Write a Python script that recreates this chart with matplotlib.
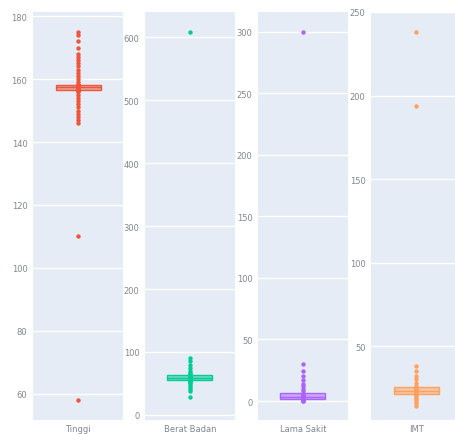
import matplotlib
matplotlib.use('Agg')
import matplotlib.pyplot as plt
import numpy as np

# Data per variabel
labels = ['Tinggi', 'Berat Badan', 'Lama Sakit', 'IMT']

tinggi = [58, 110, 146, 147, 148, 149, 150, 151, 152, 153, 154, 155, 156,
          156.5, 156.5, 156.5, 156.5, 156.5, 156.5,
          157, 157, 157, 157, 157, 157, 157, 157,
          157.5, 157.5, 157.5, 157.5, 157.5, 157.5, 157.5, 157.5,
          158, 158, 158, 158, 158, 158, 158, 158,
          159, 160, 161, 162, 163, 164, 165, 166, 167, 168, 170, 172, 174, 175]
berat = [28, 38, 42, 45, 48, 50, 53, 54, 55, 55, 56, 56, 57, 57, 58, 58, 58,
         59, 59, 60, 60, 61, 62, 63, 65, 67, 70, 75, 80, 85, 90, 608]
lama = [0, 0, 1, 1, 1, 1, 1, 1, 1, 2, 2, 2, 2, 2, 2, 2, 2, 3, 3, 3, 3, 3,
        3, 3, 4, 5, 6, 8, 10, 12, 14, 17, 20, 24, 30, 300]
imt = [14, 16, 17, 18, 19, 20, 21, 21, 21, 22, 22, 22, 22, 22, 23, 23, 23,
       23, 23, 24, 24, 24, 25, 26, 28, 30, 32, 35, 38, 194, 238]

series = [tinggi, berat, lama, imt]
colors = ['#EF553B', '#00CC96', '#AB63FA', '#FFA15A']
ticks = [np.arange(60, 181, 20), np.arange(0, 601, 100),
         np.arange(0, 301, 50), np.arange(50, 251, 50)]
ylims = [(51.7, 181.3), (-8, 640), (-15.4, 316), (5.7, 250)]
xpos = [33, 145, 258, 371]

W, H = 456, 435
fig = plt.figure(figsize=(W / 100, H / 100), dpi=100)

for i in range(4):
    ax = fig.add_axes([xpos[i] / W, 1 - 421 / H, 90 / W, 408 / H])
    ax.set_facecolor('#E5ECF6')
    for s in ax.spines.values():
        s.set_visible(False)
    c = colors[i]
    bp = ax.boxplot(series[i], positions=[0], widths=1.0, patch_artist=True,
                    showfliers=False, whis=1.5)
    for b in bp['boxes']:
        b.set_facecolor(matplotlib.colors.to_rgba(c, 0.5))
        b.set_edgecolor(c)
        b.set_linewidth(1.0)
    for m in bp['medians']:
        m.set_color(c)
        m.set_linewidth(1.0)
    for w in bp['whiskers']:
        w.set_color(c)
        w.set_linewidth(1.0)
    for cp in bp['caps']:
        cp.set_visible(False)
    ax.scatter(np.zeros(len(series[i])), series[i], s=10, color=c, zorder=4,
               linewidths=0)
    ax.set_xlim(-1, 1)
    ax.set_ylim(*ylims[i])
    ax.set_yticks(ticks[i])
    ax.set_yticklabels([str(t) for t in ticks[i]])
    ax.set_xticks([0])
    ax.set_xticklabels([labels[i]])
    ax.tick_params(axis='both', length=0, labelsize=6, colors='#7f8793',
                   pad=4)
    ax.tick_params(axis='x', pad=3)
    ax.grid(axis='y', color='white', linewidth=1)
    ax.set_axisbelow(True)

fig.savefig('out.png', dpi=100)
